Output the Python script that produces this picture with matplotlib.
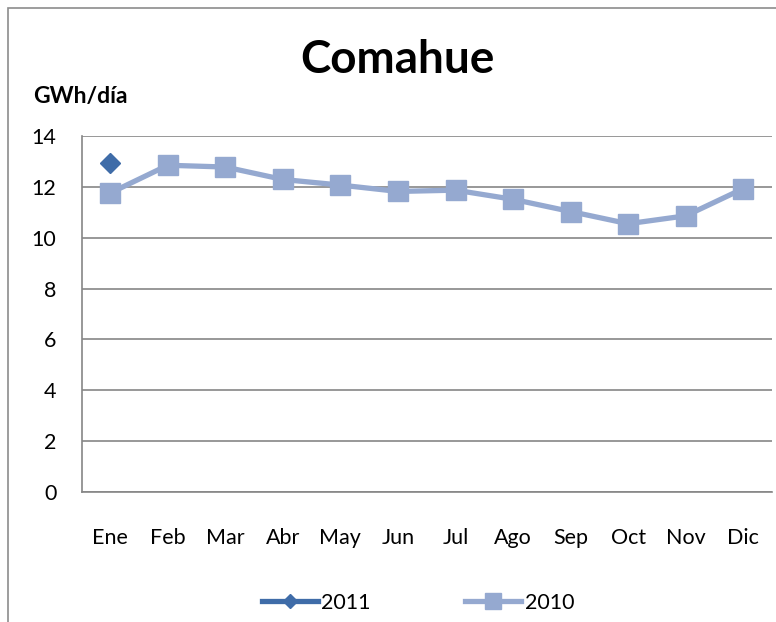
import matplotlib
matplotlib.use("Agg")
import matplotlib.pyplot as plt
from matplotlib.lines import Line2D
from matplotlib.patches import Rectangle

months = ["Ene", "Feb", "Mar", "Abr", "May", "Jun", "Jul", "Ago", "Sep", "Oct", "Nov", "Dic"]
s2010 = [11.76, 12.85, 12.78, 12.29, 12.07, 11.82, 11.87, 11.51, 11.03, 10.55, 10.86, 11.93]
s2011 = [12.94]
yticks = [0, 2, 4, 6, 8, 10, 12, 14]

plt.rcParams['font.family'] = ['Lato', 'DejaVu Sans']

W, H = 776, 622
fig = plt.figure(figsize=(W / 100, H / 100), dpi=100)

# outer chart frame (cropped at right/bottom)
fig.add_artist(Rectangle((8 / W, -0.1), 2.0, (H - 8) / H + 0.1, transform=fig.transFigure,
                         fill=False, edgecolor="#8c8c8c", linewidth=1.2))

ax = fig.add_axes([81.5 / W, 1 - 492 / H, (772 - 81.5) / W, (492 - 136) / H])
x = list(range(len(months)))
c2010 = "#95a9d0"
c2011 = "#3f6ca8"
ax.plot(x, s2010, color=c2010, linewidth=3.8, marker="s", markersize=15, zorder=3)
ax.plot(x[:len(s2011)], s2011, color=c2011, linewidth=3.8, marker="D", markersize=10, zorder=4)

ax.set_xlim(-0.5, len(months) - 0.5)
ax.set_ylim(0, 14)
ax.set_yticks(yticks)
ax.set_xticks(x)
ax.set_xticklabels(months)
ax.yaxis.grid(True, color="#868686", linewidth=1.2)
ax.set_axisbelow(True)
for s in ["top", "right"]:
    ax.spines[s].set_visible(False)
for s in ["left", "bottom"]:
    ax.spines[s].set_color("#868686")
    ax.spines[s].set_linewidth(1.2)
ax.tick_params(axis="both", length=0, labelsize=15.5, colors="black")
ax.tick_params(axis="y", pad=18)
ax.tick_params(axis="x", pad=26)

fig.text(397 / W, 1 - 60 / H, "Comahue", fontsize=33, fontweight="bold", ha="center", va="center")
fig.text(33 / W, 1 - 97 / H, "GWh/día", fontsize=16.5, fontweight="bold", ha="left", va="center")

handles = [Line2D([], [], color=c2011, linewidth=3.8, marker="D", markersize=7),
           Line2D([], [], color=c2010, linewidth=3.8, marker="s", markersize=11)]
fig.legend(handles, ["2011", "2010"], loc="center", bbox_to_anchor=(418 / W, 1 - 603 / H),
           ncol=2, frameon=False, fontsize=15.5, handlelength=2.6, handletextpad=0.15,
           columnspacing=4.4)

fig.savefig("out.png", dpi=100)
